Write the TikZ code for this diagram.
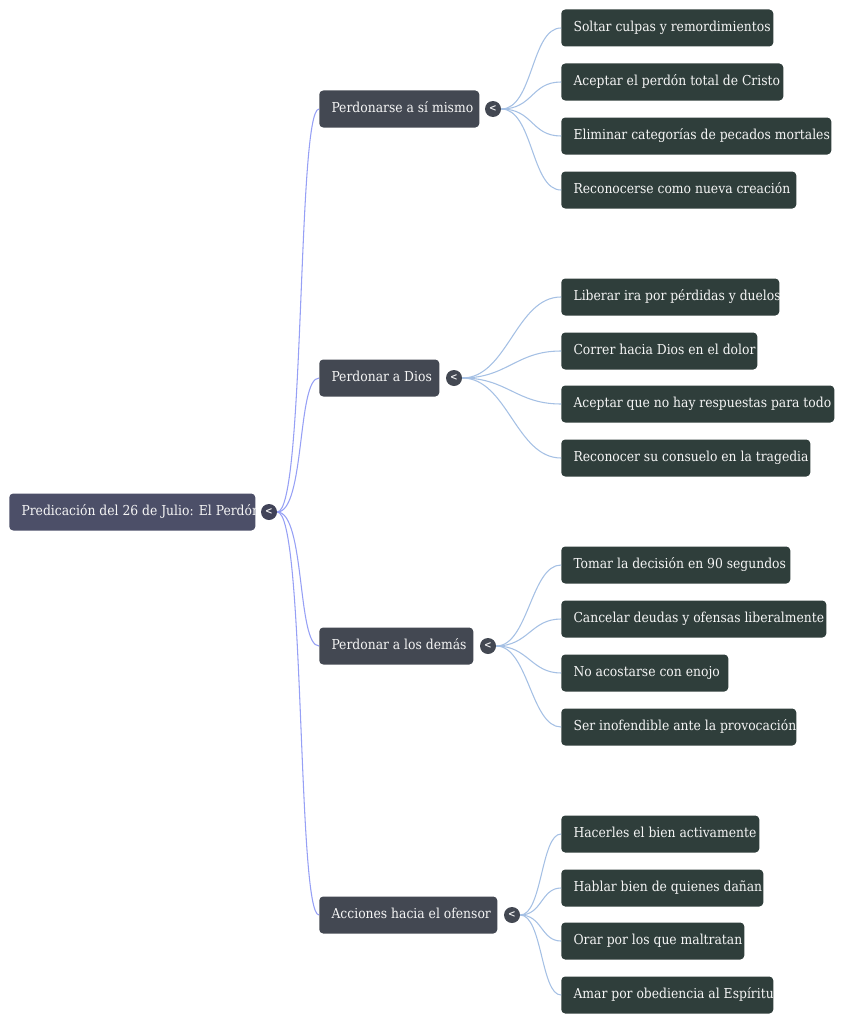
\documentclass[tikz,border=0pt]{standalone}
\usepackage{fontspec}
\setmainfont{DejaVu Serif Condensed}
\definecolor{rootfill}{RGB}{76,79,104}
\definecolor{branchfill}{RGB}{67,72,82}
\definecolor{leaffill}{RGB}{47,62,59}
\definecolor{labeltext}{RGB}{245,245,245}
\definecolor{rootline}{RGB}{150,160,245}
\definecolor{leafline}{RGB}{165,192,228}
\begin{document}
\begin{tikzpicture}[x=0.75pt,y=-0.75pt,
    mmbox/.style={anchor=west, rounded corners=3pt, inner sep=0pt,
        minimum height=27.75pt, minimum width=#1*0.75pt},
    rootbox/.style={mmbox=#1, fill=rootfill},
    branchbox/.style={mmbox=#1, fill=branchfill},
    leafbox/.style={mmbox=#1, fill=leaffill},
    boxlabel/.style={path picture={
        \node[anchor=mid west, inner sep=0pt, minimum width=0pt,
              minimum height=0pt, fill=none, draw=none, text=labeltext,
              font=\fontsize{10.3}{12}\selectfont]
            at ([xshift=9pt]path picture bounding box.west) {#1};}},
    toggle/.style={circle, fill=#1, inner sep=0pt, minimum size=12pt,
        text=labeltext, font=\fontsize{7.5}{8}\selectfont\bfseries},
    rootedge/.style={draw=rootline, line width=0.8pt},
    leafedge/.style={draw=leafline, line width=0.8pt}]
    \useasboundingbox (0,0) rectangle (866,1024);

    % root
    \node[rootbox=246, boxlabel={Predicación del 26 de Julio: El Perdón}] (root) at (9,512) {};
    \node[toggle={rootfill!85!black}] (t0) at (269,512) {<};

    % main branches
    \node[branchbox=160, boxlabel={Perdonarse a sí mismo}] (self) at (319,109) {};
    \node[branchbox=120, boxlabel={Perdonar a Dios}] (god) at (319,378) {};
    \node[branchbox=154, boxlabel={Perdonar a los demás}] (others) at (319,646) {};
    \node[branchbox=178, boxlabel={Acciones hacia el ofensor}] (offender) at (319,915) {};
    \node[toggle=branchfill] (t1) at (493,109) {<};
    \node[toggle=branchfill] (t2) at (454,378) {<};
    \node[toggle=branchfill] (t3) at (488,646) {<};
    \node[toggle=branchfill] (t4) at (512,915) {<};

    \draw[rootedge] (t0.east) .. controls +(28,0) and +(-22,0) .. (self.west);
    \draw[rootedge] (t0.east) .. controls +(28,0) and +(-22,0) .. (god.west);
    \draw[rootedge] (t0.east) .. controls +(28,0) and +(-22,0) .. (others.west);
    \draw[rootedge] (t0.east) .. controls +(28,0) and +(-22,0) .. (offender.west);

    % Perdonarse a si mismo
    \node[leafbox=212, boxlabel={Soltar culpas y remordimientos}] (s1) at (561,28) {};
    \node[leafbox=222, boxlabel={Aceptar el perdón total de Cristo}] (s2) at (561,82) {};
    \node[leafbox=270, boxlabel={Eliminar categorías de pecados mortales}] (s3) at (561,136) {};
    \node[leafbox=235, boxlabel={Reconocerse como nueva creación}] (s4) at (561,190) {};
    \draw[leafedge] (t1.east) .. controls +(32,0) and +(-30,0) .. (s1.west);
    \draw[leafedge] (t1.east) .. controls +(32,0) and +(-30,0) .. (s2.west);
    \draw[leafedge] (t1.east) .. controls +(32,0) and +(-30,0) .. (s3.west);
    \draw[leafedge] (t1.east) .. controls +(32,0) and +(-30,0) .. (s4.west);

    % Perdonar a Dios
    \node[leafbox=218, boxlabel={Liberar ira por pérdidas y duelos}] (g1) at (561,297) {};
    \node[leafbox=196, boxlabel={Correr hacia Dios en el dolor}] (g2) at (561,351) {};
    \node[leafbox=273, boxlabel={Aceptar que no hay respuestas para todo}] (g3) at (561,404) {};
    \node[leafbox=249, boxlabel={Reconocer su consuelo en la tragedia}] (g4) at (561,458) {};
    \draw[leafedge] (t2.east) .. controls +(45,0) and +(-45,0) .. (g1.west);
    \draw[leafedge] (t2.east) .. controls +(45,0) and +(-45,0) .. (g2.west);
    \draw[leafedge] (t2.east) .. controls +(45,0) and +(-45,0) .. (g3.west);
    \draw[leafedge] (t2.east) .. controls +(45,0) and +(-45,0) .. (g4.west);

    % Perdonar a los demas
    \node[leafbox=229, boxlabel={Tomar la decisión en 90 segundos}] (o1) at (561,565) {};
    \node[leafbox=265, boxlabel={Cancelar deudas y ofensas liberalmente}] (o2) at (561,619) {};
    \node[leafbox=167, boxlabel={No acostarse con enojo}] (o3) at (561,673) {};
    \node[leafbox=235, boxlabel={Ser inofendible ante la provocación}] (o4) at (561,727) {};
    \draw[leafedge] (t3.east) .. controls +(32,0) and +(-30,0) .. (o1.west);
    \draw[leafedge] (t3.east) .. controls +(32,0) and +(-30,0) .. (o2.west);
    \draw[leafedge] (t3.east) .. controls +(32,0) and +(-30,0) .. (o3.west);
    \draw[leafedge] (t3.east) .. controls +(32,0) and +(-30,0) .. (o4.west);

    % Acciones hacia el ofensor
    \node[leafbox=198, boxlabel={Hacerles el bien activamente}] (a1) at (561,834) {};
    \node[leafbox=202, boxlabel={Hablar bien de quienes dañan}] (a2) at (561,888) {};
    \node[leafbox=183, boxlabel={Orar por los que maltratan}] (a3) at (561,941) {};
    \node[leafbox=212, boxlabel={Amar por obediencia al Espíritu}] (a4) at (561,995) {};
    \draw[leafedge] (t4.east) .. controls +(22,0) and +(-20,0) .. (a1.west);
    \draw[leafedge] (t4.east) .. controls +(22,0) and +(-20,0) .. (a2.west);
    \draw[leafedge] (t4.east) .. controls +(22,0) and +(-20,0) .. (a3.west);
    \draw[leafedge] (t4.east) .. controls +(22,0) and +(-20,0) .. (a4.west);
\end{tikzpicture}
\end{document}
